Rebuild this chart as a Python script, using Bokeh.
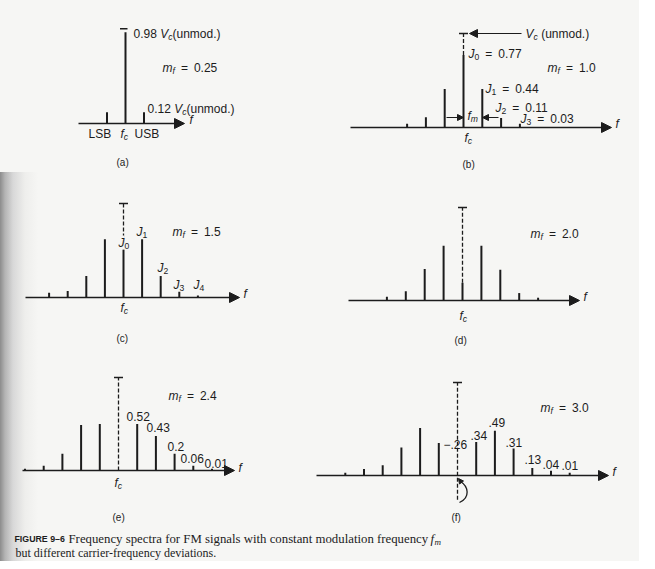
from bokeh.plotting import figure
from bokeh.models import Range1d, Arrow, NormalHead, Label, ColumnDataSource
from bokeh.layouts import column, row
from bokeh.embed import file_html
from bokeh.resources import INLINE

INK = "#1c1c1c"
BG = "#f6f6f4"
SANS = "Liberation Sans"
SERIF = "Liberation Serif"
EN = "\u2002"
NB = "\u00a0"

# ---------------- data (sideband index n, relative amplitude) ----------------
a_n = [-1, 0, 1]
a_amp = [0.12, 0.98, 0.12]
b_n = [-3, -2, -1, 0, 1, 2, 3]
b_amp = [0.04, 0.11, 0.41, 0.77, 0.41, 0.10, 0.04]
c_n = [-4, -3, -2, -1, 0, 1, 2, 3, 4]
c_amp = [0.05, 0.07, 0.23, 0.62, 0.51, 0.62, 0.23, 0.06, 0.02]
d_n = [-4, -3, -2, -1, 0, 1, 2, 3, 4]
d_amp = [0.04, 0.10, 0.34, 0.59, 0.19, 0.59, 0.33, 0.08, 0.03]
e_n = [-5, -4, -3, -2, -1, 0, 1, 2, 3, 4, 5]
e_amp = [0.02, 0.05, 0.18, 0.49, 0.50, 0.00, 0.50, 0.37, 0.18, 0.05, 0.02]
f_n = [-6, -5, -4, -3, -2, -1, 0, 1, 2, 3, 4, 5, 6]
f_amp = [0.03, 0.07, 0.11, 0.30, 0.51, 0.35, -0.26, 0.36, 0.48, 0.29, 0.08, 0.05, 0.03]
unmod = 1.0

e_labels = ["0.52", "0.43", "0.2", "0.06", "0.01"]
f_labels = ["\u2212.26", ".34", ".49", ".31", ".13", ".04", ".01"]

# ---------------- helpers ----------------
WID = {' ': 278, NB: 278, EN: 500, '(': 333, ')': 333, '.': 278, '=': 584, '\u2212': 584, '-': 333,
       'A': 667, 'B': 667, 'C': 722, 'D': 722, 'E': 667, 'F': 611, 'G': 778, 'I': 278,
       'J': 500, 'L': 556, 'M': 833, 'R': 722, 'S': 667, 'U': 722, 'V': 667,
       'a': 556, 'c': 500, 'd': 556, 'e': 556, 'f': 278, 'm': 833, 'n': 556, 'o': 556, 'u': 556}


def tw(s, size):
    return sum(WID.get(ch, 556) for ch in s) / 1000.0 * size


class Panel:
    def __init__(self, box, cx, cy, s, A):
        fx0, fy0, w, h = box
        self.cx, self.cy, self.s, self.A = cx, cy, s, A
        p = figure(width=w, height=h, output_backend="svg", toolbar_location=None,
                   x_range=Range1d((fx0 - cx) / s, (fx0 + w - cx) / s),
                   y_range=Range1d((cy - fy0 - h) / A, (cy - fy0) / A),
                   x_axis_location=None, y_axis_location=None, min_border=0)
        p.grid.visible = False
        p.outline_line_color = None
        p.background_fill_alpha = 0
        p.border_fill_alpha = 0
        self.p = p

    def dx(self, X):
        return (X - self.cx) / self.s

    def dy(self, Y):
        return (self.cy - Y) / self.A

    def rich(self, X, Y, pieces, size=12, font=SANS, bg=False):
        x = X
        for txt, kind in pieces:
            sub = 's' in kind
            sz = size * 0.72 if sub else size
            yy = Y + (0.33 * size if sub else 0)
            style = 'italic' if 'i' in kind else ('bold' if 'b' in kind else 'normal')
            lab = Label(x=self.dx(x), y=self.dy(yy), text=txt, text_font=font,
                        text_font_size=f"{sz:.1f}px", text_font_style=style,
                        text_color=INK, text_baseline="middle", text_align="left")
            if bg:
                lab.background_fill_color = BG
            self.p.add_layout(lab)
            x += tw(txt, sz)

    def bars(self, n, amp, skip_carrier=False):
        xs = [k for k, v in zip(n, amp) if v > 0 and not (skip_carrier and k == 0)]
        ys = [v for k, v in zip(n, amp) if v > 0 and not (skip_carrier and k == 0)]
        src = ColumnDataSource(dict(x=xs, y0=[0] * len(xs), y1=ys))
        self.p.segment(x0="x", y0="y0", x1="x", y1="y1", source=src,
                       line_color=INK, line_width=2)

    def axis(self, X0, X1, flabX, flabY):
        self.p.add_layout(Arrow(end=NormalHead(size=10, fill_color=INK, line_color=INK),
                                x_start=self.dx(X0), y_start=0, x_end=self.dx(X1), y_end=0,
                                line_color=INK, line_width=1.5))
        self.rich(flabX, flabY, [("f", "i")], size=12)

    def carrier_dashed(self, j0):
        lo = j0 if j0 < 0 else max(j0, 0)
        self.p.segment(x0=[0], y0=[lo], x1=[0], y1=[unmod], line_color=INK,
                       line_width=1.3, line_dash="4 2")
        self.cap()

    def cap(self, half_px=4.5):
        h = half_px / self.s
        self.p.segment(x0=[-h], y0=[unmod], x1=[h], y1=[unmod], line_color=INK, line_width=1.5)

    def arrow(self, X0, Y0, X1, Y1, size=8):
        self.p.add_layout(Arrow(end=NormalHead(size=size, fill_color=INK, line_color=INK),
                                x_start=self.dx(X0), y_start=self.dy(Y0),
                                x_end=self.dx(X1), y_end=self.dy(Y1),
                                line_color=INK, line_width=1.2))


def mf(P, X, Y, val):
    P.rich(X, Y, [("m", "i"), ("f", "si"), (EN + "=" + EN + val, "n")])


def J(P, X, Y, k, val=None, bg=False):
    pieces = [("J", "i"), (str(k), "s")]
    if val is not None:
        pieces.append((EN + "=" + EN + val, "n"))
    P.rich(X, Y, pieces, bg=bg)


def fc(P, X, Y):
    P.rich(X, Y, [("f", "i"), ("c", "si")])


# ---------------- panel (a) ----------------
A_ = Panel((0, 0, 322, 172), 125, 123, 18.5, 93)
A_.bars(a_n, a_amp)
A_.p.segment(x0=[-5.5 / 18.5], y0=[unmod + 0.02], x1=[2.0 / 18.5], y1=[unmod + 0.02],
             line_color=INK, line_width=1.5)
A_.axis(78, 184, 189, 119)
A_.rich(133, 33, [("0.98 ", "n"), ("V", "i"), ("c", "si"), ("(unmod.)", "n")])
mf(A_, 162, 67, "0.25")
A_.rich(147, 108, [("0.12 ", "n"), ("V", "i"), ("c", "si"), ("(unmod.)", "n")])
A_.rich(88, 133, [("LSB", "n")])
fc(A_, 120, 133)
A_.rich(134, 133, [("USB", "n")])
A_.rich(116, 162, [("(a)", "n")], size=10)

# ---------------- panel (b) ----------------
B_ = Panel((322, 0, 317, 172), 463, 127, 18.8, 94)
B_.bars(b_n, b_amp)
B_.carrier_dashed(b_amp[3])
B_.axis(350, 611, 615, 123)
B_.arrow(521, 33, 469, 33, size=8)
B_.rich(525, 33, [("V", "i"), ("c", "si"), (NB + "(unmod.)", "n")])
J(B_, 468, 53, 0, "0.77")
mf(B_, 547, 67, "1.0")
J(B_, 485, 88, 1, "0.44")
J(B_, 495, 107, 2, "0.11")
J(B_, 520, 118, 3, "0.03")
B_.arrow(446, 117, 463, 117, size=6)
B_.arrow(498, 117, 482, 117, size=6)
B_.rich(467, 115, [("f", "i"), ("m", "si")])
fc(B_, 464, 137)
B_.rich(462, 164, [("(b)", "n")], size=10)

# ---------------- panel (c) ----------------
C_ = Panel((0, 172, 322, 175), 123, 297, 18.6, 94)
C_.bars(c_n, c_amp)
C_.carrier_dashed(c_amp[4])
C_.axis(25, 239, 243, 293)
J(C_, 118, 242, 0, bg=True)
J(C_, 136, 231, 1)
mf(C_, 172, 231, "1.5")
J(C_, 157, 267, 2)
J(C_, 173, 284, 3)
J(C_, 193, 284, 4)
fc(C_, 120, 307)
C_.rich(116, 338, [("(c)", "n")], size=10)

# ---------------- panel (d) ----------------
D_ = Panel((322, 172, 317, 175), 462, 300, 18.9, 93)
D_.bars(d_n, d_amp)
D_.carrier_dashed(d_amp[4])
D_.axis(348, 579, 583, 296)
mf(D_, 530, 233, "2.0")
fc(D_, 459, 315)
D_.rich(454, 340, [("(d)", "n")], size=10)

# ---------------- panel (e) ----------------
E_ = Panel((0, 347, 300, 176), 118, 470, 18.7, 93)
E_.bars(e_n, e_amp, skip_carrier=True)
E_.carrier_dashed(e_amp[5])
E_.axis(22, 234, 238, 467)
mf(E_, 168, 395, "2.4")
for (X, Y), t in zip([(126, 416), (146, 427), (167, 446), (180, 458), (204, 463)], e_labels):
    E_.rich(X, Y, [(t, "n")])
fc(E_, 114, 482)
E_.rich(112, 517, [("(e)", "n")], size=10)

# ---------------- panel (f) ----------------
F_ = Panel((300, 347, 339, 176), 457, 475, 18.7, 93)
F_.bars(f_n, f_amp, skip_carrier=True)
F_.carrier_dashed(f_amp[6])
F_.axis(316, 608, 612, 471)
mf(F_, 540, 407, "3.0")
for (X, Y), t in zip([(443, 444), (470, 435), (488, 422), (505, 442), (524, 459), (542, 464), (561, 465)], f_labels):
    F_.rich(X, Y, [(t, "n")])
F_.p.bezier(x0=[F_.dx(460)], y0=[F_.dy(481)], x1=[F_.dx(459)], y1=[F_.dy(502)],
            cx0=[F_.dx(468)], cy0=[F_.dy(486)], cx1=[F_.dx(470)], cy1=[F_.dy(497)],
            line_color=INK, line_width=1.3)
F_.arrow(461, 482, 458, 478, size=5)
F_.rich(451, 517, [("(f)", "n")], size=10)

# ---------------- caption ----------------
K_ = Panel((0, 523, 639, 38), 0, 0, 1, 1)
K_.rich(14, 538, [("FIGURE 9\u20136", "b")], size=8.8, font=SANS)
K_.rich(68, 538, [("Frequency spectra for FM signals with constant modulation frequency", "n")],
        size=12.8, font=SERIF)
K_.rich(430, 538, [("f", "i")], size=12.8, font=SERIF)
K_.rich(434, 541, [("m", "i")], size=9, font=SERIF)
K_.rich(15, 552, [("but different carrier-frequency deviations.", "n")], size=12, font=SERIF)

GRAD = ("linear-gradient(to right, #8c8c8c 0px, #b4b4b4 5px, #d8d8d8 13px, "
        "#eeeeec 25px, " + BG + " 38px)")
layout = column(
    row(A_.p, B_.p, styles={"background-color": BG}),
    row(C_.p, D_.p, styles={"background": GRAD}),
    row(E_.p, F_.p, styles={"background": GRAD}),
    row(K_.p, styles={"background": GRAD}),
    styles={"background-color": BG},
)
open("out.html", "w").write(file_html(layout, INLINE))
